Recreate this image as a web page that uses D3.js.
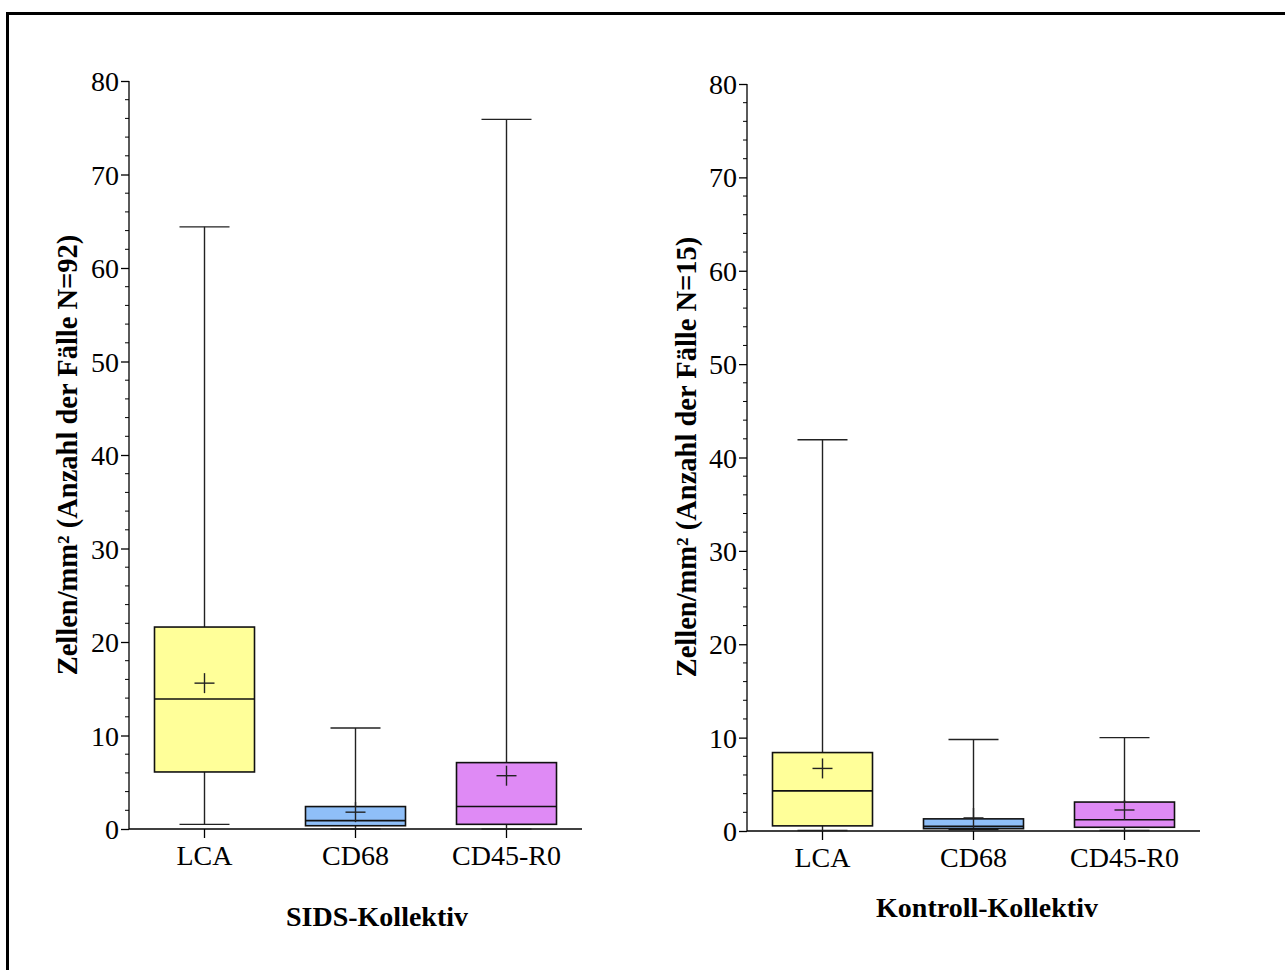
<!DOCTYPE html>
<html><head><meta charset="utf-8">
<script src="https://cdn.jsdelivr.net/npm/d3@7"></script>
<style>html,body{margin:0;padding:0;background:#fff;}svg{display:block;}</style>
</head><body>
<svg id="c" width="1285" height="970"></svg>
<script>
const categories = ["LCA", "CD68", "CD45-R0"];
const colors = ["#FFFF99", "#8FBFF8", "#DF8AF5"];
const yTicks = [0, 10, 20, 30, 40, 50, 60, 70, 80];
// SIDS-Kollektiv (N=92)
const sidsMin    = [0.5, 0.0, 0.0];
const sidsQ1     = [6.1, 0.35, 0.5];
const sidsMedian = [13.9, 0.9, 2.4];
const sidsQ3     = [21.6, 2.4, 7.1];
const sidsMax    = [64.4, 10.8, 75.9];
const sidsMean   = [15.6, 1.8, 5.7];
// Kontroll-Kollektiv (N=15)
const kontMin    = [0.05, 0.15, 0.05];
const kontQ1     = [0.55, 0.25, 0.4];
const kontMedian = [4.3, 0.5, 1.2];
const kontQ3     = [8.4, 1.3, 3.1];
const kontMax    = [41.9, 9.8, 10.0];
const kontMean   = [6.7, 1.4, 2.25];

const svg = d3.select("#c");
const FONT = "'Liberation Serif','Times New Roman',serif";

// outer frame
svg.append("path").attr("d","M7.5,975 L7.5,13.5 L1290,13.5")
  .attr("fill","none").attr("stroke","#000").attr("stroke-width",3);

function panel(opt){
  const g = svg.append("g");
  const x = d3.scaleBand().domain(categories).range([opt.x0, opt.x1]);
  const y = d3.scaleLinear().domain([0,80]).range([opt.yb, opt.yt]);
  const data = categories.map((c,i)=>({c, i, min:opt.min[i], q1:opt.q1[i], med:opt.med[i], q3:opt.q3[i], max:opt.max[i], mean:opt.mean[i]}));
  const bw = 100, cw = 50, mw = 20;

  // y minor ticks
  const minor = d3.range(0, 81, 2).filter(v=>v%10!==0);
  g.selectAll(".mn").data(minor).join("line")
    .attr("x1",opt.x0-4).attr("x2",opt.x0)
    .attr("y1",d=>y(d)).attr("y2",d=>y(d)).attr("stroke","#000").attr("stroke-width",1);
  // y axis
  const ya = d3.axisLeft(y).tickValues(yTicks).tickSize(8).tickPadding(2).tickFormat(d3.format("d"));
  const yg = g.append("g").attr("transform",`translate(${opt.x0},0)`).call(ya);
  yg.select(".domain").attr("d",`M0,${y(80)}V${y(0)}`).attr("stroke-width",1.3);
  yg.selectAll("line").attr("stroke-width",1.3);
  yg.selectAll("text").attr("font-family",FONT).attr("font-size",28).attr("fill","#000").attr("dy","0.34em");
  // x axis
  const xa = d3.axisBottom(x).tickSize(9).tickPadding(7).tickSizeOuter(0);
  const xg = g.append("g").attr("transform",`translate(0,${opt.yb})`).call(xa);
  xg.select(".domain").attr("d",`M${opt.x0},0H${opt.x1}`).attr("stroke-width",1.3);
  xg.selectAll("line").attr("stroke-width",1.3);
  xg.selectAll("text").attr("font-family",FONT).attr("font-size",28).attr("fill","#000");

  const cx = d => x(d.c) + x.bandwidth()/2;
  const bx = g.append("g");
  // whiskers
  bx.selectAll(".wh").data(data).join("line")
    .attr("x1",cx).attr("x2",cx).attr("y1",d=>y(d.max)).attr("y2",d=>y(d.min))
    .attr("stroke","#222").attr("stroke-width",1.4);
  bx.selectAll(".capT").data(data).join("line")
    .attr("x1",d=>cx(d)-cw/2).attr("x2",d=>cx(d)+cw/2).attr("y1",d=>y(d.max)).attr("y2",d=>y(d.max))
    .attr("stroke","#222").attr("stroke-width",1.4);
  bx.selectAll(".capB").data(data).join("line")
    .attr("x1",d=>cx(d)-cw/2).attr("x2",d=>cx(d)+cw/2).attr("y1",d=>y(d.min)).attr("y2",d=>y(d.min))
    .attr("stroke","#222").attr("stroke-width",1.4);
  // boxes
  bx.selectAll(".box").data(data).join("rect")
    .attr("x",d=>cx(d)-bw/2).attr("width",bw)
    .attr("y",d=>y(d.q3)).attr("height",d=>y(d.q1)-y(d.q3))
    .attr("fill",d=>colors[d.i]).attr("stroke","#111").attr("stroke-width",1.6);
  bx.selectAll(".med").data(data).join("line")
    .attr("x1",d=>cx(d)-bw/2).attr("x2",d=>cx(d)+bw/2).attr("y1",d=>y(d.med)).attr("y2",d=>y(d.med))
    .attr("stroke","#111").attr("stroke-width",1.6);
  // mean crosses
  bx.selectAll(".mh").data(data).join("line")
    .attr("x1",d=>cx(d)-mw/2).attr("x2",d=>cx(d)+mw/2).attr("y1",d=>y(d.mean)).attr("y2",d=>y(d.mean))
    .attr("stroke","#222").attr("stroke-width",1.4);
  bx.selectAll(".mv").data(data).join("line")
    .attr("x1",cx).attr("x2",cx).attr("y1",d=>y(d.mean)-mw/2).attr("y2",d=>y(d.mean)+mw/2)
    .attr("stroke","#222").attr("stroke-width",1.4);

  // titles
  g.append("text").attr("x",opt.ytx).attr("y",opt.yty)
    .attr("transform",`rotate(-90,${opt.ytx},${opt.yty})`)
    .attr("text-anchor","middle").attr("font-family",FONT).attr("font-weight","bold").attr("font-size",28.5)
    .text(opt.ytitle);
  g.append("text").attr("x",opt.xtx).attr("y",opt.xty)
    .attr("text-anchor","middle").attr("font-family",FONT).attr("font-weight","bold").attr("font-size",28)
    .text(opt.xtitle);
}

panel({x0:129, x1:582, yb:829, yt:81, min:sidsMin, q1:sidsQ1, med:sidsMedian, q3:sidsQ3, max:sidsMax, mean:sidsMean,
  ytitle:"Zellen/mm² (Anzahl der Fälle N=92)", ytx:77, yty:455, xtitle:"SIDS-Kollektiv", xtx:377, xty:926});
panel({x0:747, x1:1200, yb:831, yt:84, min:kontMin, q1:kontQ1, med:kontMedian, q3:kontQ3, max:kontMax, mean:kontMean,
  ytitle:"Zellen/mm² (Anzahl der Fälle N=15)", ytx:696, yty:457, xtitle:"Kontroll-Kollektiv", xtx:987, xty:917});
</script>
</body></html>
